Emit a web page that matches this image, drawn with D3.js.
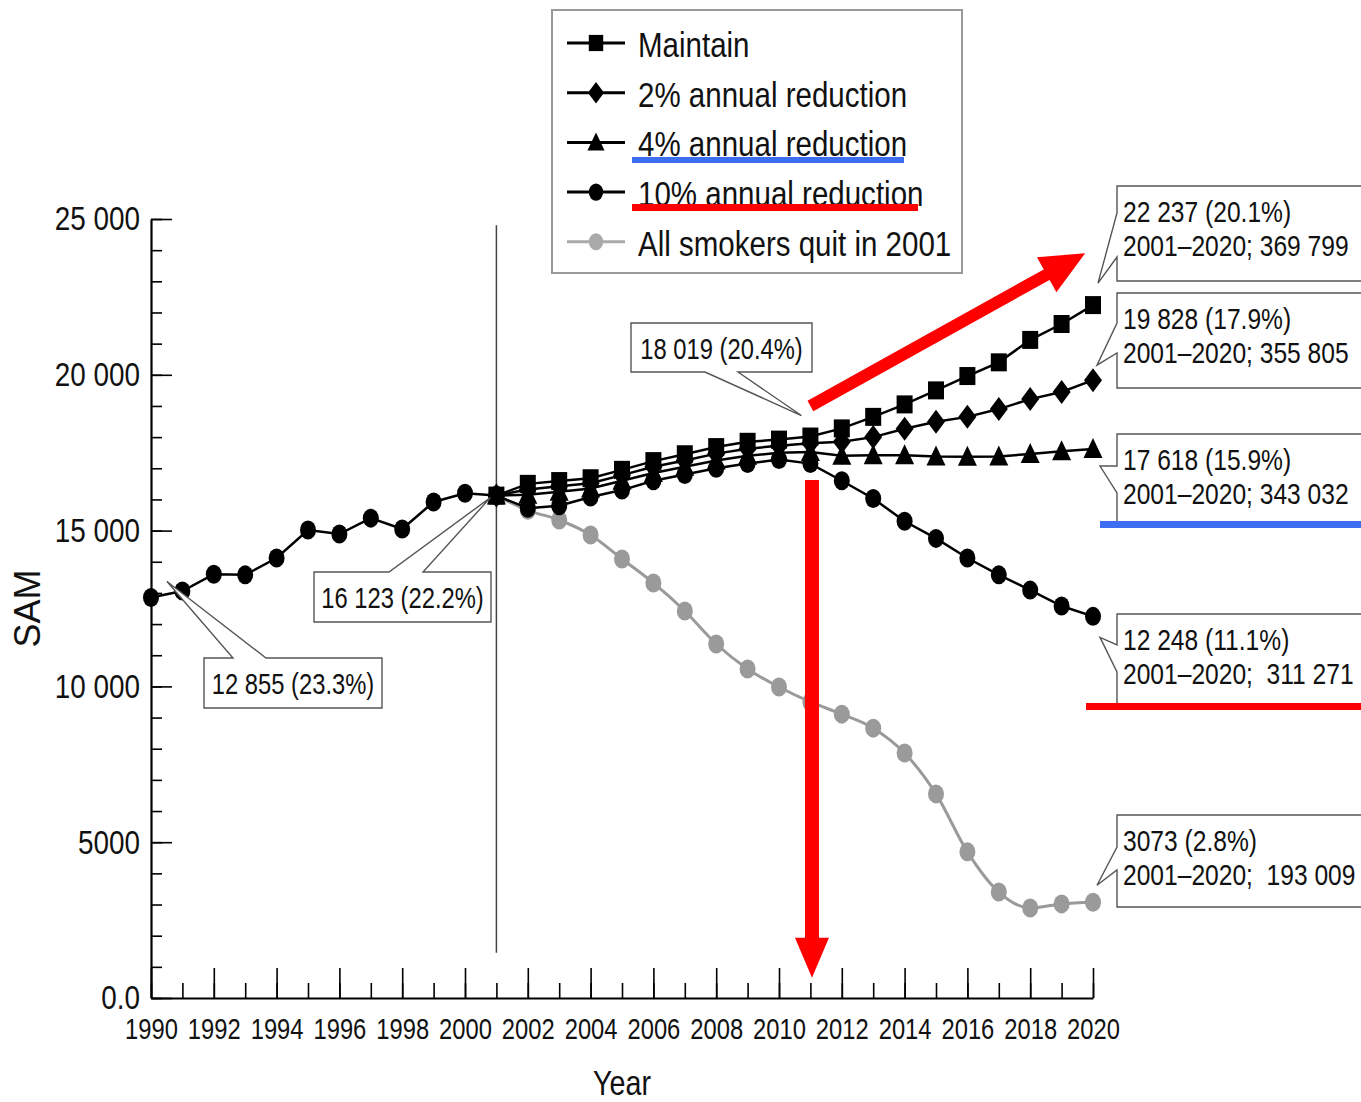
<!DOCTYPE html>
<html>
<head>
<meta charset="utf-8">
<script src="https://cdn.jsdelivr.net/npm/d3@7"></script>
<style>
  body { margin: 0; background: #fff; }
  svg text { font-family: "Liberation Sans", Arial, sans-serif; fill: #111; }
</style>
</head>
<body>
<div id="chart"></div>
<script>
// shared history 1990-2001
const histYears = [1990, 1991, 1992, 1993, 1994, 1995, 1996, 1997, 1998, 1999, 2000, 2001];
const histValues = [12855, 13060, 13600, 13580, 14120, 15020, 14890, 15400, 15050, 15920, 16200, 16123];

// projections 2001-2020
const projYears = [2001, 2002, 2003, 2004, 2005, 2006, 2007, 2008, 2009, 2010,
                   2011, 2012, 2013, 2014, 2015, 2016, 2017, 2018, 2019, 2020];
const maintainValues = [16123, 16500, 16590, 16680, 16950, 17230, 17450, 17680, 17850, 17920,
                        18019, 18280, 18650, 19050, 19500, 19960, 20400, 21120, 21630, 22237];
const red2Values = [16123, 16320, 16420, 16520, 16780, 17050, 17250, 17470, 17630, 17720,
                    17800, 17850, 18000, 18270, 18490, 18650, 18900, 19220, 19450, 19828];
const red4Values = [16123, 16150, 16250, 16350, 16600, 16850, 17050, 17250, 17400, 17500,
                    17520, 17400, 17420, 17420, 17380, 17370, 17380, 17460, 17550, 17618];
const red10Values = [16123, 15720, 15800, 16080, 16300, 16600, 16800, 17000, 17150, 17280,
                     17150, 16600, 16030, 15300, 14750, 14120, 13580, 13090, 12580, 12248];
const quitValues = [16123, 15650, 15340, 14860, 14090, 13320, 12420, 11360, 10560, 9980,
                    9500, 9110, 8660, 7860, 6550, 4690, 3400, 2890, 3020, 3073];

const seriesNames = ["Maintain", "2% annual reduction", "4% annual reduction",
                     "10% annual reduction", "All smokers quit in 2001"];

const yTickValues = [0, 5000, 10000, 15000, 20000, 25000];
const yTickLabels = ["0.0", "5000", "10 000", "15 000", "20 000", "25 000"];
const xTickLabels = [1990, 1992, 1994, 1996, 1998, 2000, 2002, 2004, 2006, 2008,
                     2010, 2012, 2014, 2016, 2018, 2020];

const width = 1361, height = 1102;
const margin = {top: 219, right: 268, bottom: 104, left: 151};
const narrow = 0.82;   // horizontal squeeze to get a condensed face

const svg = d3.select("#chart").append("svg")
    .attr("width", width)
    .attr("height", height);

const x = d3.scaleLinear().domain([1990, 2020]).range([margin.left, width - margin.right]);
const y = d3.scaleLinear().domain([0, 25000]).range([height - margin.bottom, margin.top]);

// marker shapes
function marker(g, shape, cx, cy, fill, s) {
    s = s || 1;
    if (shape === "square") {
        g.append("rect").attr("x", cx - 8 * s).attr("y", cy - 9 * s)
            .attr("width", 16 * s).attr("height", 18 * s).attr("fill", fill);
    } else if (shape === "diamond") {
        g.append("path").attr("d", `M${cx},${cy - 12 * s}L${cx + 9 * s},${cy}L${cx},${cy + 12 * s}L${cx - 9 * s},${cy}Z`)
            .attr("fill", fill);
    } else if (shape === "triangle") {
        g.append("path").attr("d", `M${cx},${cy - 11 * s}L${cx + 9.5 * s},${cy + 9 * s}L${cx - 9.5 * s},${cy + 9 * s}Z`)
            .attr("fill", fill);
    } else {
        g.append("ellipse").attr("cx", cx).attr("cy", cy)
            .attr("rx", 8 * s).attr("ry", 9.5 * s).attr("fill", fill);
    }
}

// axes
const axisG = svg.append("g");
axisG.append("g")
    .attr("transform", `translate(${margin.left},0)`)
    .call(d3.axisLeft(y).tickValues(d3.range(0, 25001, 1000)).tickSize(-11).tickSizeOuter(0).tickFormat(""))
    .call(g => g.select(".domain").remove());
axisG.append("g")
    .attr("class", "yaxis")
    .attr("transform", `translate(${margin.left},0)`)
    .call(d3.axisLeft(y).tickValues(yTickValues).tickSize(-21).tickSizeOuter(0).tickPadding(11)
        .tickFormat((d, i) => yTickLabels[i]));
axisG.append("g")
    .attr("transform", `translate(0,${height - margin.bottom})`)
    .call(d3.axisBottom(x).ticks(30).tickSize(-15).tickSizeOuter(0).tickFormat(""))
    .call(g => g.select(".domain").remove());
axisG.append("g")
    .attr("class", "xaxis")
    .attr("transform", `translate(0,${height - margin.bottom})`)
    .call(d3.axisBottom(x).tickValues(xTickLabels).tickSize(-30).tickSizeOuter(0).tickPadding(20)
        .tickFormat(d3.format("d")));
axisG.selectAll("line, path").attr("stroke", "#000").attr("stroke-width", 1.6);
axisG.selectAll(".domain").attr("stroke-width", 2.2);
axisG.selectAll(".yaxis text").style("font-size", "34px").attr("fill", "#111");
axisG.selectAll(".xaxis text").style("font-size", "29px").attr("fill", "#111");

svg.append("text")
    .attr("class", "nosq")
    .attr("transform", `translate(40,${(y(0) + y(25000)) / 2}) rotate(-90)`)
    .attr("text-anchor", "middle")
    .style("font-size", "36px")
    .text("SAM");
svg.append("text")
    .attr("x", (x(1990) + x(2020)) / 2).attr("y", 1095)
    .attr("text-anchor", "middle")
    .style("font-size", "35px")
    .text("Year");

// 2001 reference line
svg.append("line")
    .attr("x1", x(2001)).attr("x2", x(2001))
    .attr("y1", y(24800)).attr("y2", y(1450))
    .attr("stroke", "#444").attr("stroke-width", 1.5);

// series
const line = d3.line().x(d => x(d[0])).y(d => y(d[1]));
const smooth = d3.line().x(d => x(d[0])).y(d => y(d[1])).curve(d3.curveMonotoneX);

const series = [
    {values: quitValues, shape: "circle", color: "#9a9a9a", gen: smooth},
    {values: red10Values, shape: "circle", color: "#000", gen: line},
    {values: red4Values, shape: "triangle", color: "#000", gen: line},
    {values: red2Values, shape: "diamond", color: "#000", gen: line},
    {values: maintainValues, shape: "square", color: "#000", gen: line}
];

const plot = svg.append("g");
const hist = histYears.map((yr, i) => [yr, histValues[i]]);
plot.append("path").attr("d", line(hist)).attr("fill", "none")
    .attr("stroke", "#000").attr("stroke-width", 2.5);

series.forEach(s => {
    const pts = projYears.map((yr, i) => [yr, s.values[i]]);
    plot.append("path").attr("d", s.gen(pts)).attr("fill", "none")
        .attr("stroke", s.color).attr("stroke-width", s.color === "#000" ? 2.5 : 3);
});
hist.forEach(d => marker(plot, "circle", x(d[0]), y(d[1]), "#000"));
series.forEach(s => {
    projYears.forEach((yr, i) => marker(plot, s.shape, x(yr), y(s.values[i]), s.color));
});

// callouts
function callout(c) {
    const b = c.box, t = c.tip;
    let d;
    if (c.side === "left") {
        d = `M${b[0]},${b[1]}H${b[0] + b[2]}V${b[1] + b[3]}H${b[0]}V${c.a[1]}L${t[0]},${t[1]}L${b[0]},${c.a[0]}Z`;
    } else if (c.side === "top") {
        d = `M${b[0]},${b[1]}H${c.a[0]}L${t[0]},${t[1]}L${c.a[1]},${b[1]}H${b[0] + b[2]}V${b[1] + b[3]}H${b[0]}Z`;
    } else {
        d = `M${b[0]},${b[1]}H${b[0] + b[2]}V${b[1] + b[3]}H${c.a[1]}L${t[0]},${t[1]}L${c.a[0]},${b[1] + b[3]}H${b[0]}Z`;
    }
    svg.append("path").attr("d", d).attr("fill", "#fff")
        .attr("stroke", "#555").attr("stroke-width", 1.4);
    if (c.lines.length === 1) {
        svg.append("text")
            .attr("x", b[0] + b[2] / 2).attr("y", b[1] + b[3] / 2 + 11)
            .attr("text-anchor", "middle")
            .style("font-size", "29px")
            .text(c.lines[0]);
    } else {
        c.lines.forEach((l, i) => {
            svg.append("text")
                .attr("x", b[0] + 6).attr("y", b[1] + 36 + i * 34)
                .style("font-size", "30px")
                .style("white-space", "pre")
                .text(l);
        });
    }
}

const callouts = [
    {box: [631, 323, 181, 49], side: "bottom", a: [705, 738], tip: [x(2011) - 9, y(18019) - 21], lines: ["18 019 (20.4%)"]},
    {box: [314, 572, 177, 50], side: "top", a: [389, 423], tip: [x(2001) - 6, y(16123) + 2], lines: ["16 123 (22.2%)"]},
    {box: [204, 658, 178, 50], side: "top", a: [233, 266], tip: [x(1990) + 16, y(12855) - 16], lines: ["12 855 (23.3%)"]},
    {box: [1117, 186, 270, 95], side: "left", a: [213, 257], tip: [x(2020) + 5, y(22237) - 22], lines: ["22 237 (20.1%)", "2001–2020; 369 799"]},
    {box: [1117, 293, 270, 95], side: "left", a: [323, 353], tip: [x(2020) + 4, y(19828) - 15], lines: ["19 828 (17.9%)", "2001–2020; 355 805"]},
    {box: [1117, 434, 270, 90], side: "left", a: [466, 493], tip: [x(2020) + 7, y(17618) + 17], lines: ["17 618 (15.9%)", "2001–2020; 343 032"]},
    {box: [1117, 614, 270, 91], side: "left", a: [645, 672], tip: [x(2020) + 7, y(12248) + 21], lines: ["12 248 (11.1%)", "2001–2020;  311 271"]},
    {box: [1117, 815, 270, 92], side: "left", a: [847, 870], tip: [x(2020) + 4, y(3073) - 17], lines: ["3073 (2.8%)", "2001–2020;  193 009"]}
];
callouts.forEach(callout);

// legend
const legend = svg.append("g");
legend.append("rect").attr("x", 552).attr("y", 10).attr("width", 410).attr("height", 263)
    .attr("fill", "#fff").attr("stroke", "#999").attr("stroke-width", 2);
const legendShapes = ["square", "diamond", "triangle", "circle", "circle"];
const legendColors = ["#000", "#000", "#000", "#000", "#aaa"];
seriesNames.forEach((name, i) => {
    const ly = 43 + i * 49.7;
    legend.append("line").attr("x1", 567).attr("x2", 625).attr("y1", ly).attr("y2", ly)
        .attr("stroke", legendColors[i]).attr("stroke-width", 3);
    marker(legend, legendShapes[i], 596, ly, legendColors[i], 0.9);
    legend.append("text").attr("x", 638).attr("y", ly + 14)
        .style("font-size", "36px").text(name);
});

// squeeze every text horizontally (condensed look)
svg.selectAll("text").filter(function() { return !this.classList.contains("nosq"); })
    .each(function() {
        const t = d3.select(this);
        const tx = +t.attr("x") || 0, ty = +t.attr("y") || 0;
        t.attr("x", 0).attr("y", 0)
            .attr("transform", `translate(${tx},${ty}) scale(${narrow},1)`);
    });

// highlight underlines
const marks = svg.append("g");
marks.append("rect").attr("x", 632).attr("y", 157).attr("width", 272).attr("height", 6).attr("fill", "#3d6ef2");
marks.append("rect").attr("x", 632).attr("y", 204).attr("width", 286).attr("height", 7).attr("fill", "#ff0000");
marks.append("rect").attr("x", 1100).attr("y", 521).attr("width", 261).attr("height", 7).attr("fill", "#3d6ef2");
marks.append("rect").attr("x", 1086).attr("y", 703).attr("width", 275).attr("height", 7).attr("fill", "#ff0000");

// red arrows
function arrow(x1, y1, x2, y2, shaft, headLen, headW) {
    const dx = x2 - x1, dy = y2 - y1, len = Math.hypot(dx, dy);
    const ux = dx / len, uy = dy / len, px = -uy, py = ux;
    const bx = x2 - ux * headLen, by = y2 - uy * headLen;
    marks.append("line").attr("x1", x1).attr("y1", y1).attr("x2", bx + ux * 2).attr("y2", by + uy * 2)
        .attr("stroke", "#ff0000").attr("stroke-width", shaft);
    marks.append("path")
        .attr("d", `M${x2},${y2}L${bx + px * headW},${by + py * headW}L${bx - px * headW},${by - py * headW}Z`)
        .attr("fill", "#ff0000");
}
arrow(x(2011), y(19000), x(2019.75), y(23900), 12, 44, 20);
arrow(x(2011.05), y(16620), x(2011.05), y(650), 14, 40, 17);
</script>
</body>
</html>
